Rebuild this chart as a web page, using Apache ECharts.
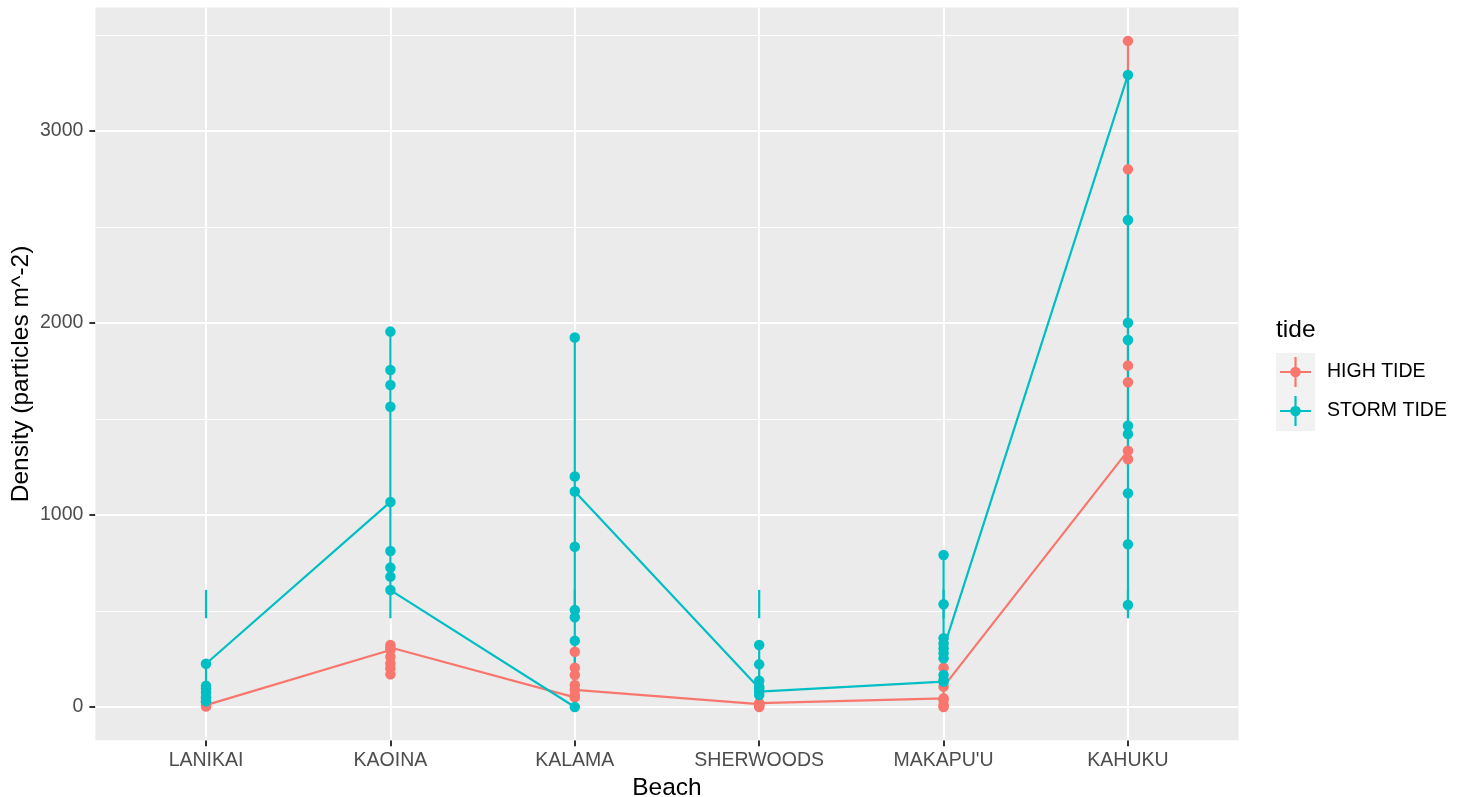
<!DOCTYPE html>
<html>
<head>
<meta charset="utf-8">
<script src="https://cdn.jsdelivr.net/npm/echarts@6/dist/echarts.min.js"></script>
<style>
html,body{margin:0;padding:0;background:#fff;}
#chart{width:1468px;height:797px;}
</style>
</head>
<body>
<div id="chart"></div>
<script>
// ---- data ----
const beaches = ["LANIKAI", "KAOINA", "KALAMA", "SHERWOODS", "MAKAPU'U", "KAHUKU"];

// values per beach in data order (line passes through them in this order)
const highLanikai   = [50, 25, 10, 3];
const highKaoina    = [297, 323, 262, 227, 201, 170, 310];
const highKalama    = [50, 288, 205, 167, 115, 62, 89];
const highSherwoods = [15, 0, 5, 20, 10];
const highMakapuu   = [45, 0, 10, 36, 205, 106];
const highKahuku    = [1335, 1290, 1691, 1778, 2800, 3469];

const stormLanikai   = [30, 50, 75, 95, 110, 225];
const stormKaoina    = [1068, 1955, 1755, 1677, 1564, 812, 726, 679, 609];
const stormKalama    = [0, 1924, 1200, 835, 505, 467, 345, 1122];
const stormSherwoods = [97, 323, 222, 137, 106, 62, 80];
const stormMakapuu   = [132, 141, 167, 254, 280, 331, 358, 535, 792, 305];
const stormKahuku    = [3292, 2536, 2001, 1911, 1465, 1422, 1113, 847, 531];

const stormErrLow  = [462, 462, 462, 462, 462, 462];
const stormErrHigh = [610, 610, 610, 610, 610, 610];

const yTicks = [0, 1000, 2000, 3000];
const yMinor = [500, 1500, 2500, 3500];
const yMin = -173.45, yMax = 3642.45;
const xTicks = [0, 1, 2, 3, 4, 5];

// ---- build ----
const highByBeach  = [highLanikai, highKaoina, highKalama, highSherwoods, highMakapuu, highKahuku];
const stormByBeach = [stormLanikai, stormKaoina, stormKalama, stormSherwoods, stormMakapuu, stormKahuku];
function pairs(groups) {
  const out = [];
  groups.forEach((vals, i) => vals.forEach(v => out.push([i, v])));
  return out;
}
const highData = pairs(highByBeach);
const stormData = pairs(stormByBeach);
const errData = beaches.map((b, i) => [i, stormErrLow[i], stormErrHigh[i]]);

const RED = '#F8766D', TEAL = '#00BFC4';
const FONT = '"Liberation Sans", Arial, Helvetica, sans-serif';
const legendIcon = 'path://M0 13.9H31V16.1H0Z M14.4 0H16.6V30H14.4Z M20.8 15A5.3 5.3 0 1 1 10.2 15A5.3 5.3 0 1 1 20.8 15Z';

const gridLines = [].concat(
  yTicks.map(v => ({ yAxis: v, lineStyle: { width: 2.1 } })),
  yMinor.map(v => ({ yAxis: v, lineStyle: { width: 1.05 } })),
  xTicks.map(v => ({ xAxis: v, lineStyle: { width: 2.1 } }))
);

const chart = echarts.init(document.getElementById('chart'), null, { renderer: 'canvas' });
chart.setOption({
  animation: false,
  backgroundColor: '#ffffff',
  textStyle: { fontFamily: FONT },
  grid: {
    left: 95.4, right: 229.4, top: 7.6, bottom: 56.7,
    show: true, backgroundColor: '#EBEBEB', borderWidth: 0,
    containLabel: false, outerBoundsMode: 'none'
  },
  xAxis: {
    type: 'value', min: -0.6, max: 5.6,
    axisLine: { show: true, onZero: false, lineStyle: { color: 'rgba(0,0,0,0)' } },
    splitLine: { show: false },
    axisTick: { show: true, inside: false, customValues: xTicks, length: 6, lineStyle: { color: '#333333', width: 2 } },
    axisLabel: {
      customValues: xTicks, margin: 10, fontSize: 19.5, color: '#4D4D4D', fontFamily: FONT,
      formatter: v => beaches[Math.round(v)] || ''
    },
    name: 'Beach', nameLocation: 'middle', nameGap: 35, nameMoveOverlap: false,
    nameTextStyle: { fontSize: 24.5, color: '#000000', fontFamily: FONT }
  },
  yAxis: {
    type: 'value', min: yMin, max: yMax,
    axisLine: { show: true, onZero: false, lineStyle: { color: 'rgba(0,0,0,0)' } },
    splitLine: { show: false },
    axisTick: { show: true, inside: false, customValues: yTicks, length: 6, lineStyle: { color: '#333333', width: 2 } },
    axisLabel: {
      customValues: yTicks, margin: 12, fontSize: 19.5, color: '#4D4D4D', fontFamily: FONT,
      formatter: v => String(Math.round(v))
    },
    name: 'Density (particles m^-2)', nameLocation: 'middle', nameGap: 62, nameMoveOverlap: false,
    nameTextStyle: { fontSize: 24.5, color: '#000000', fontFamily: FONT }
  },
  legend: {
    orient: 'vertical', left: 1280, top: 357, padding: 0,
    itemWidth: 31, itemHeight: 30, itemGap: 9,
    selectedMode: false,
    data: [{ name: 'HIGH TIDE', icon: legendIcon }, { name: 'STORM TIDE', icon: legendIcon }],
    textStyle: { fontSize: 19.5, color: '#000000', fontFamily: FONT, padding: [0, 0, 0, 11] }
  },
  graphic: [
    { type: 'rect', left: 1276, top: 353, z: -1, shape: { width: 39, height: 78 }, style: { fill: '#F2F2F2' } },
    { type: 'text', left: 1276, top: 318, style: { text: 'tide', font: '24.5px ' + FONT, fill: '#000000' } }
  ],
  series: [
    {
      name: 'HIGH TIDE', type: 'scatter', z: 4, data: highData,
      symbol: 'circle', symbolSize: 10.5, itemStyle: { color: RED, opacity: 1 },
      emphasis: { disabled: true }
    },
    {
      name: 'STORM TIDE', type: 'scatter', z: 5, data: stormData,
      symbol: 'circle', symbolSize: 10.5, itemStyle: { color: TEAL, opacity: 1 },
      emphasis: { disabled: true }
    },
    {
      name: 'HIGH TIDE', type: 'line', z: 2, data: highData,
      showSymbol: false, symbol: 'none', color: RED,
      lineStyle: { color: RED, width: 2.2 },
      emphasis: { disabled: true },
      markLine: {
        silent: true, z: 1, symbol: ['none', 'none'], label: { show: false },
        lineStyle: { color: '#FFFFFF', type: 'solid' },
        emphasis: { disabled: true },
        data: gridLines
      }
    },
    {
      name: 'STORM TIDE', type: 'line', z: 3, data: stormData,
      showSymbol: false, symbol: 'none', color: TEAL,
      lineStyle: { color: TEAL, width: 2.2 },
      emphasis: { disabled: true }
    },
    {
      name: 'STORM TIDE', type: 'custom', z: 3, data: errData,
      encode: { x: 0, y: [1, 2] },
      renderItem: function (params, api) {
        const x = api.value(0);
        const p1 = api.coord([x, api.value(1)]);
        const p2 = api.coord([x, api.value(2)]);
        return { type: 'line', shape: { x1: p1[0], y1: p1[1], x2: p2[0], y2: p2[1] },
                 style: { stroke: TEAL, lineWidth: 2.2 } };
      }
    }
  ]
});
</script>
</body>
</html>
